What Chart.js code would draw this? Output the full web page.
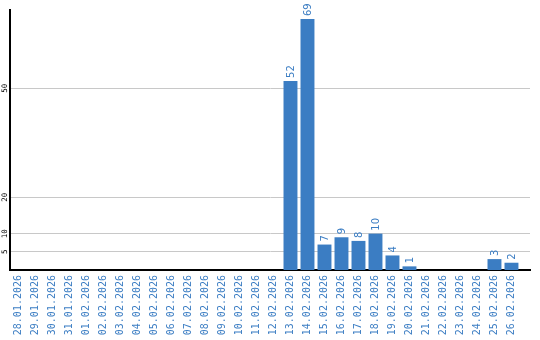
<!DOCTYPE html>
<html>
<head>
<meta charset="utf-8">
<script src="https://cdn.jsdelivr.net/npm/chart.js@4/dist/chart.umd.min.js"></script>
<style>
    html, body { margin: 0; padding: 0; background: #fff; }
    #wrap { width: 540px; height: 340px; }
</style>
</head>
<body>
<div id="wrap"><canvas id="dailyChart"></canvas></div>
<script>
const days = [
    "28.01.2026", "29.01.2026", "30.01.2026", "31.01.2026", "01.02.2026",
    "02.02.2026", "03.02.2026", "04.02.2026", "05.02.2026", "06.02.2026",
    "07.02.2026", "08.02.2026", "09.02.2026", "10.02.2026", "11.02.2026",
    "12.02.2026", "13.02.2026", "14.02.2026", "15.02.2026", "16.02.2026",
    "17.02.2026", "18.02.2026", "19.02.2026", "20.02.2026", "21.02.2026",
    "22.02.2026", "23.02.2026", "24.02.2026", "25.02.2026", "26.02.2026"
];
const counts = [
    0, 0, 0, 0, 0,
    0, 0, 0, 0, 0,
    0, 0, 0, 0, 0,
    0, 52, 69, 7, 9,
    8, 10, 4, 1, 0,
    0, 0, 0, 3, 2
];
const yTicks = [5, 10, 20, 50];

const blue = '#3b7dc3';

//..value labels above the bars, rotated
const barValues = {
    id: 'barValues',
    afterDatasetsDraw(chart) {
        const ctx = chart.ctx;
        const meta = chart.getDatasetMeta(0);
        ctx.save();
        ctx.fillStyle = blue;
        ctx.font = '10px "DejaVu Sans"';
        ctx.textAlign = 'left';
        ctx.textBaseline = 'middle';
        meta.data.forEach((bar, i) => {
            const v = counts[i];
            if (!v) return;
            ctx.save();
            ctx.translate(bar.x + 0.5, bar.y - 3);
            ctx.rotate(-Math.PI / 2);
            ctx.fillText(String(v), 0, 0);
            ctx.restore();
        });
        ctx.restore();
    }
};

new Chart(document.getElementById('dailyChart'), {
    type: 'bar',
    data: {
        datasets: [{
            data: counts.map((v, i) => ({ x: i, y: v })),
            backgroundColor: blue,
            barPercentage: 0.82,
            categoryPercentage: 1
        }]
    },
    options: {
        responsive: true,
        maintainAspectRatio: false,
        animation: false,
        layout: { padding: { top: 10, right: 10, left: 0, bottom: 0 } },
        plugins: {
            legend: { display: false },
            tooltip: { enabled: false }
        },
        scales: {
            x: {
                type: 'linear',
                min: -0.5,
                max: 30.09,
                offset: false,
                grid: { display: false, drawTicks: false },
                border: { color: '#000', width: 2 },
                afterBuildTicks(scale) {
                    scale.ticks = days.map((_, i) => ({ value: i }));
                },
                ticks: {
                    color: blue,
                    font: { family: 'DejaVu Sans Mono', size: 10 },
                    minRotation: 90,
                    maxRotation: 90,
                    autoSkip: false,
                    padding: 5,
                    callback: (value) => days[value] || ''
                },
                afterFit(scale) { scale.height = 70; }
            },
            y: {
                min: 0,
                max: 71.5,
                grid: { color: '#c8c8c8', drawTicks: false },
                border: { color: '#000', width: 2 },
                afterBuildTicks(scale) {
                    scale.ticks = yTicks.map(v => ({ value: v }));
                },
                ticks: {
                    color: '#000',
                    font: { family: 'DejaVu Sans Mono', size: 7.5 },
                    minRotation: 90,
                    maxRotation: 90,
                    crossAlign: 'center',
                    padding: 0
                },
                afterFit(scale) { scale.width = 10; }
            }
        }
    },
    plugins: [barValues]
});
</script>
</body>
</html>
